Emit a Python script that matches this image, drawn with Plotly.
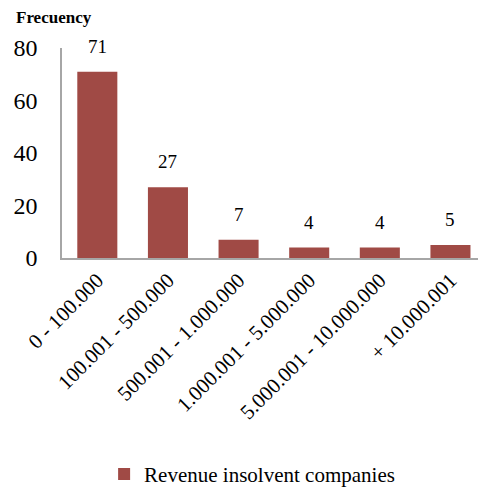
import plotly.graph_objects as go

categories = ["0 - 100.000", "100.001 - 500.000", "500.001 - 1.000.000",
              "1.000.001 - 5.000.000", "5.000.001 - 10.000.000", "+ 10.000.001"]
values = [71, 27, 7, 4, 4, 5]
series_name = "Revenue insolvent companies"
y_ticks = [0, 20, 40, 60, 80]

BAR = "#A04A45"
FONT = "Liberation Serif, Times New Roman, serif"

fig = go.Figure()
fig.add_trace(go.Bar(
    x=list(range(len(categories))), y=values, name=series_name,
    marker=dict(color=BAR, line=dict(width=0)), width=0.567,
))

for i, v in enumerate(values):
    fig.add_annotation(x=i, y=v, text=str(v), showarrow=False,
                       yanchor="bottom", yshift=13,
                       font=dict(family=FONT, size=19, color="#000"))

fig.add_annotation(xref="paper", yref="paper", x=-0.115, y=1.145,
                   xanchor="left", yanchor="middle", text="<b>Frecuency</b>",
                   showarrow=False, font=dict(family=FONT, size=17, color="#000"))

fig.update_layout(
    width=478, height=489,
    margin=dict(l=62, r=0, t=48, b=231),
    paper_bgcolor="white", plot_bgcolor="white",
    showlegend=True,
    legend=dict(orientation="h", x=0.457, xanchor="center", yref="container",
                y=0.03, yanchor="middle",
                font=dict(family=FONT, size=21, color="#000")),
    xaxis=dict(tickmode="array", tickvals=list(range(len(categories))),
               ticktext=categories, tickangle=-45, range=[-0.5, 5.39],
               showline=True, linecolor="#A6A6A6", linewidth=1.5,
               showgrid=False, zeroline=False, ticks="",
               tickfont=dict(family=FONT, size=21, color="#000")),
    yaxis=dict(range=[0, 80], tickvals=y_ticks, showline=True,
               linecolor="#A6A6A6", linewidth=1.5, showgrid=False,
               zeroline=False, ticks="", ticklabelstandoff=18,
               tickfont=dict(family=FONT, size=24, color="#000")),
)

fig.write_html("out.html")
